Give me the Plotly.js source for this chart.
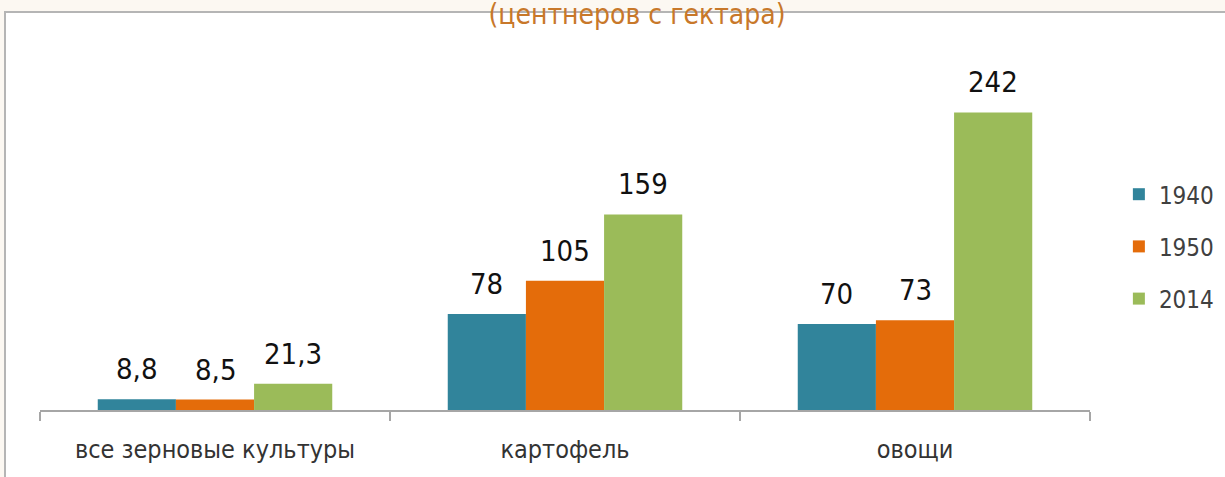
<!DOCTYPE html>
<html>
<head>
<meta charset="utf-8">
<script src="https://cdn.plot.ly/plotly-3.0.1.min.js"></script>
<style>html,body{margin:0;padding:0;background:#fcf8f2;}#chart{width:1225px;height:477px;}</style>
</head>
<body>
<div id="chart"></div>
<script>
var categories = ["все зерновые культуры", "картофель", "овощи"];
var seriesNames = ["1940", "1950", "2014"];
var values1940 = [8.8, 78, 70];
var values1950 = [8.5, 105, 73];
var values2014 = [21.3, 159, 242];
var valueLabels1940 = ["8,8", "78", "70"];
var valueLabels1950 = ["8,5", "105", "73"];
var valueLabels2014 = ["21,3", "159", "242"];
var colors = ["#31849b", "#e46c0a", "#9bbb59"];
var titleText = "(центнеров с гектара)";

var allValues = [values1940, values1950, values2014];
var allLabels = [valueLabels1940, valueLabels1950, valueLabels2014];
var FONT = "'DejaVu Sans Condensed', 'Liberation Sans Narrow', 'DejaVu Sans', sans-serif";

var plotL = 40, plotR = 1090, plotT = 30, plotB = 410;
var W = 1225, H = 477;
var plotW = plotR - plotL, plotH = plotB - plotT;
var bargap = 0.33;
var catPx = plotW / categories.length;
var barPx = catPx * (1 - bargap) / 3;

var traces = seriesNames.map(function(name, i) {
  return {
    type: "bar",
    name: name,
    x: categories,
    y: allValues[i],
    marker: {color: colors[i]},
    legendgroup: "g" + i,
    hoverinfo: "none"
  };
});

var annotations = [];
seriesNames.forEach(function(name, i) {
  categories.forEach(function(c, j) {
    annotations.push({
      x: c, y: allValues[i][j], xref: "x", yref: "y",
      text: allLabels[i][j], showarrow: false,
      yanchor: "bottom", yshift: 11, xshift: (i - 1) * barPx,
      font: {family: FONT, size: 29, color: "#111111"}
    });
  });
});

var layout = {
  width: W, height: H,
  margin: {l: plotL, r: W - plotR, t: plotT, b: H - plotB, autoexpand: false},
  paper_bgcolor: "#fcf8f2",
  plot_bgcolor: "rgba(0,0,0,0)",
  barmode: "group",
  bargap: bargap,
  bargroupgap: 0,
  title: {
    text: titleText,
    font: {family: FONT, size: 28, color: "#c8782a"},
    x: 0.52, xanchor: "center",
    y: 1.0, yref: "container", yanchor: "top", pad: {t: 4}
  },
  xaxis: {
    type: "category",
    showline: true, linecolor: "#a6a6a6", linewidth: 2,
    ticks: "outside", tickson: "boundaries", ticklen: 9, tickwidth: 2, tickcolor: "#a6a6a6",
    tickfont: {family: FONT, size: 25, color: "#333333"},
    ticklabelstandoff: 16,
    showgrid: false, zeroline: false, fixedrange: true
  },
  yaxis: {
    range: [0, 309], visible: false, showgrid: false, zeroline: false, fixedrange: true
  },
  legend: {
    x: 1.0275, xanchor: "left", y: 0.43, yanchor: "middle",
    font: {family: FONT, size: 24, color: "#404040"},
    traceorder: "grouped", tracegroupgap: 18,
    bgcolor: "rgba(0,0,0,0)"
  },
  shapes: [{
    type: "rect", xref: "paper", yref: "paper", layer: "below",
    x0: (5 - plotL) / plotW, x1: (W + 20 - plotL) / plotW,
    y0: (plotB - (H + 20)) / plotH, y1: (plotB - 12) / plotH,
    fillcolor: "#ffffff", line: {color: "#b5b5b5", width: 2}
  }],
  annotations: annotations,
  showlegend: true
};

Plotly.newPlot("chart", traces, layout, {displayModeBar: false, staticPlot: true});
</script>
</body>
</html>
